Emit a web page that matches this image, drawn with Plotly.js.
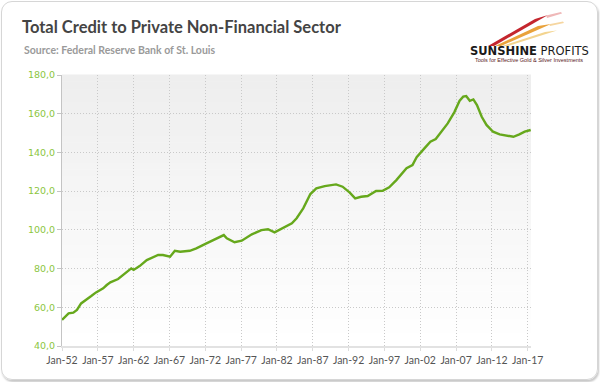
<!DOCTYPE html>
<html>
<head>
<meta charset="utf-8">
<script src="https://cdn.plot.ly/plotly-3.0.1.min.js"></script>
<style>
  html, body { margin: 0; padding: 0; background: #ffffff; }
  #wrap { position: relative; width: 600px; height: 382px; overflow: hidden; }
  #chart { position: absolute; left: 0; top: 0; width: 600px; height: 382px; }
  #frame { position: absolute; left: 1px; top: 1px; width: 595px; height: 377px;
           border: 1px solid #d6d6d6; border-radius: 11px;
           box-shadow: 1px 2px 2px #c8c8c8; pointer-events: none; }
</style>
</head>
<body>
<div id="wrap">
  <div id="chart"></div>
  <div id="frame"></div>
</div>
<script>
// ---- data ----
const dates = [
  '1952-01-01','1952-07-01','1952-12-01','1953-08-01','1954-02-01','1954-09-01','1955-06-01',
  '1956-02-01','1956-10-01','1957-10-01','1958-04-01','1958-10-01','1959-11-01','1960-10-01',
  '1961-09-01','1962-01-01','1962-11-01','1963-11-01','1965-06-01','1966-02-01','1967-02-01',
  '1967-10-01','1968-07-01','1969-11-01','1970-10-01','1972-03-01','1973-08-01','1974-08-01',
  '1975-01-01','1976-02-01','1977-02-01','1978-07-01','1979-11-01','1980-10-01','1981-09-01',
  '1982-11-01','1984-02-01','1984-10-01','1985-09-01','1986-09-01','1987-07-01','1988-09-01',
  '1990-04-01','1991-03-01','1992-03-01','1992-12-01','1993-10-01','1994-09-01','1995-11-01',
  '1996-10-01','1997-09-01','1998-09-01','2000-02-01','2000-12-01','2001-07-01','2002-08-01',
  '2003-06-01','2004-03-01','2004-09-01','2005-11-01','2006-10-01','2007-07-01','2008-01-01',
  '2008-06-01','2008-12-01','2009-06-01','2009-12-01','2010-08-01','2011-04-01','2012-03-01',
  '2013-02-01','2014-02-01','2015-01-01','2015-11-01','2016-08-01','2017-06-01'
];
const creditValues = [
  53.5, 55.5, 56.9, 57.2, 58.6, 62.0, 63.8,
  65.8, 67.7, 69.8, 71.5, 72.9, 74.6, 77.5,
  80.1, 79.3, 81.3, 84.4, 87.0, 87.0, 86.1,
  89.2, 88.7, 89.2, 90.4, 93.0, 95.6, 97.3,
  95.6, 93.6, 94.4, 97.7, 99.9, 100.3, 98.7,
  101.1, 103.4, 106.0, 111.1, 118.5, 121.4, 122.6,
  123.5, 122.3, 119.2, 116.3, 117.1, 117.5, 120.1,
  120.2, 122.0, 125.7, 131.8, 133.5, 137.5, 142.1,
  145.5, 146.9, 149.5, 155.0, 160.7, 166.7, 168.8,
  169.1, 166.7, 167.4, 164.5, 158.4, 154.2, 150.7,
  149.3, 148.5, 148.1, 149.3, 150.7, 151.6
];
const tickDates = ['1952-01-01','1957-01-01','1962-01-01','1967-01-01','1972-01-01','1977-01-01',
  '1982-01-01','1987-01-01','1992-01-01','1997-01-01','2002-01-01','2007-01-01','2012-01-01','2017-01-01'];
const tickLabels = ['Jan-52','Jan-57','Jan-62','Jan-67','Jan-72','Jan-77','Jan-82','Jan-87',
  'Jan-92','Jan-97','Jan-02','Jan-07','Jan-12','Jan-17'];
const yTicks = [40, 60, 80, 100, 120, 140, 160, 180];
const titleText = 'Total Credit to Private Non-Financial Sector';
const sourceText = 'Source: Federal Reserve Bank of St. Louis';

// ---- layout geometry ----
const W = 600, H = 382;
const M = { l: 62, r: 69, t: 75, b: 36 };
const PW = W - M.l - M.r, PH = H - M.t - M.b;
const px = x => (x - M.l) / PW;
const py = y => (H - M.b - y) / PH;

// gradient background bands in plot area
const shapes = [];
const N = 40;
for (let i = 0; i < N; i++) {
  const t = i / (N - 1);
  const c = Math.round(255 - t * 17);
  shapes.push({ type: 'rect', xref: 'paper', yref: 'paper', x0: 0, x1: 1,
    y0: i / N, y1: (i + 1) / N + 0.002, fillcolor: `rgb(${c},${c},${c})`,
    line: { width: 0 }, layer: 'below' });
}
// logo streaks
function poly(pts, color) {
  let d = 'M ' + pts.map(p => px(p[0]) + ',' + py(p[1])).join(' L ') + ' Z';
  shapes.push({ type: 'path', xref: 'paper', yref: 'paper', path: d,
    fillcolor: color, line: { width: 0 }, layer: 'above' });
}
poly([[488, 46], [535, 19], [548, 15], [494, 46]], '#c4262e');
poly([[546, 15.5], [561, 12], [562, 13.5], [547, 18]], '#efb8b8');
poly([[495, 46], [538, 26], [551, 24], [501, 46]], '#e9a23b');
poly([[549, 24.3], [563, 21.5], [564, 23], [550, 26]], '#f6d6a0');
poly([[502, 46], [545, 32], [557, 30.5], [508, 46]], '#f3d48f');

const annotations = [
  { xref: 'paper', yref: 'paper', x: px(22), y: py(50), xanchor: 'left', yanchor: 'middle',
    text: '<b>' + sourceText + '</b>', showarrow: false,
    font: { family: 'Lato, sans-serif', size: 10.5, color: '#9a9a9a' } },
  { xref: 'paper', yref: 'paper', x: px(529), y: py(51), xanchor: 'center', yanchor: 'middle',
    text: '<b>SUNSHINE</b> PROFITS', showarrow: false,
    font: { family: 'DejaVu Sans, sans-serif', size: 11.5, color: '#1a1a1a' } },
  { xref: 'paper', yref: 'paper', x: px(529), y: py(60), xanchor: 'center', yanchor: 'middle',
    text: 'Tools for Effective Gold &amp; Silver Investments', showarrow: false,
    font: { family: 'Liberation Sans, sans-serif', size: 5.5, color: '#5a1a1a' } }
];

const trace = {
  x: dates, y: creditValues, type: 'scatter', mode: 'lines',
  line: { color: '#66a81c', width: 2.4 }, hoverinfo: 'skip'
};

const layout = {
  width: W, height: H,
  margin: M,
  paper_bgcolor: 'rgba(0,0,0,0)',
  plot_bgcolor: '#ffffff',
  separators: ',.',
  showlegend: false,
  title: { text: '<b>' + titleText + '</b>', xref: 'container', yref: 'container',
    x: 22 / W, xanchor: 'left', y: 1 - 27 / H, yanchor: 'middle',
    font: { family: 'Lato, sans-serif', size: 16.5, color: '#444444' } },
  xaxis: {
    type: 'date', range: ['1952-01-01', '2017-06-17'],
    tickmode: 'array', tickvals: tickDates, ticktext: tickLabels,
    showgrid: true, gridcolor: '#c9c9c9', griddash: '1px,2px', gridwidth: 1,
    showline: true, linecolor: '#e2e2e2', linewidth: 2,
    ticks: 'outside', ticklen: 3, tickcolor: '#dcdcdc',
    tickfont: { family: 'Lato, sans-serif', size: 10.5, color: '#555555' },
    zeroline: false, fixedrange: true
  },
  yaxis: {
    range: [40, 180], tickmode: 'array', tickvals: yTicks, tickformat: '.1f',
    showgrid: true, gridcolor: '#c9c9c9', griddash: '1px,2px', gridwidth: 1,
    showline: true, linecolor: '#c4c4c4', linewidth: 1,
    ticks: 'outside', ticklen: 4, tickcolor: '#c4c4c4',
    tickfont: { family: 'DejaVu Sans, Verdana, sans-serif', size: 9.5, color: '#8cc63f' },
    zeroline: false, fixedrange: true
  },
  shapes: shapes,
  annotations: annotations
};

Plotly.newPlot('chart', [trace], layout, { displayModeBar: false, staticPlot: true });
</script>
</body>
</html>
